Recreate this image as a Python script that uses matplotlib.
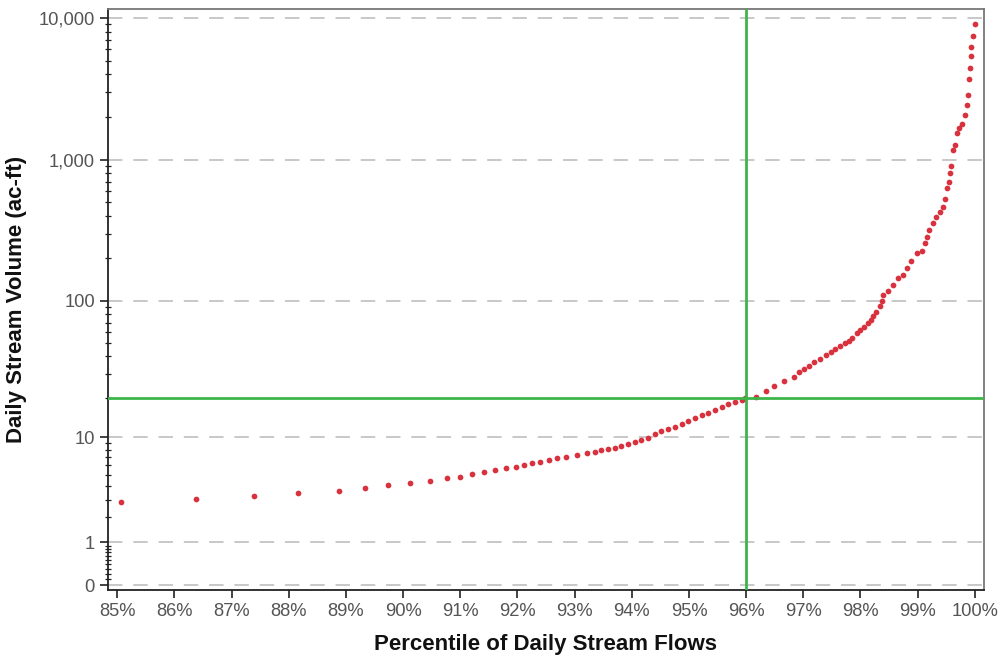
import numpy as np
import matplotlib
matplotlib.use("Agg")
import matplotlib.pyplot as plt
from matplotlib.ticker import FixedLocator, FuncFormatter

plt.rcParams['font.family'] = ['Liberation Sans', 'DejaVu Sans']

# percentile of daily stream flows (%) and daily volume (ac-ft)
percentile = [
    85.07, 86.38, 87.40, 88.16, 88.88, 89.33, 89.74, 90.13, 90.48, 90.76,
    91.00, 91.21, 91.42, 91.61, 91.80, 91.97, 92.12, 92.26, 92.40, 92.55,
    92.70, 92.85, 93.04, 93.21, 93.36, 93.47, 93.59, 93.71, 93.82, 93.94,
    94.06, 94.17, 94.29, 94.41, 94.52, 94.64, 94.76, 94.87, 94.99, 95.10,
    95.22, 95.34, 95.45, 95.57, 95.69, 95.80, 95.92, 95.98,
    96.17, 96.34, 96.49, 96.67, 96.84, 96.93, 97.02, 97.10, 97.19, 97.29,
    97.39, 97.48, 97.55, 97.64, 97.73, 97.80, 97.86, 97.94, 98.00, 98.06,
    98.13, 98.18, 98.22, 98.28, 98.34, 98.38, 98.40, 98.48, 98.57, 98.66,
    98.75, 98.81, 98.89, 98.98, 99.07, 99.13, 99.16, 99.20, 99.26, 99.32,
    99.39, 99.44, 99.48, 99.51, 99.54, 99.56, 99.59, 99.62, 99.65, 99.68,
    99.73, 99.78, 99.83, 99.87, 99.88, 99.89, 99.91, 99.93, 99.94, 99.97,
    100.0,
]
volume = [
    2.83, 3.04, 3.22, 3.43, 3.63, 3.83, 4.05, 4.24, 4.44, 4.66,
    4.81, 5.02, 5.24, 5.44, 5.64, 5.82, 6.01, 6.21, 6.41, 6.61,
    6.81, 7.02, 7.24, 7.49, 7.73, 7.93, 8.12, 8.31, 8.53, 8.84,
    9.16, 9.50, 9.84, 10.56, 11.2, 11.6, 12.0, 12.6, 13.4, 14.0,
    14.7, 15.4, 16.1, 17.0, 17.8, 18.5, 19.3, 19.8,
    20.3, 22.5, 24.4, 26.5, 28.2, 30.7, 32.4, 34.3, 36.4, 38.3,
    40.7, 43.3, 45.2, 47.5, 49.7, 51.8, 54.2, 58.7, 62.0, 64.8,
    69.2, 73.0, 78.0, 83.8, 92.0, 100.4, 110, 118, 130, 145,
    153, 170, 193, 218, 227, 257, 286, 318, 359, 395,
    429, 466, 525, 629, 699, 801, 903, 1171, 1270, 1537,
    1667, 1786, 2069, 2431, 2864, 3697, 4457, 5395, 6280, 7464,
    9076,
]

x_ticks = list(range(85, 101))
y_ticks = [0, 1, 10, 100, 1000, 10000]
ref_percentile = 96
ref_volume = 20


def fwd(y):
    return np.log10(np.maximum(y, -0.99) + 1)


def inv(t):
    return 10 ** t - 1


fig = plt.figure(figsize=(10.01, 6.57), dpi=100)
ax = fig.add_axes([0.1079, 0.102, 0.8751, 0.8843])
ax.set_yscale('function', functions=(fwd, inv))

ax.scatter(percentile, volume, s=17, color='#d9323f', linewidths=0, zorder=3)
ax.axvline(ref_percentile, color='#3db54a', lw=2, zorder=4)
ax.axhline(ref_volume, color='#3db54a', lw=2, zorder=4)

ax.set_xlim(84.84, 100.16)
ax.set_ylim(inv(-0.035), inv(4.063))

ax.set_xticks(x_ticks)
ax.set_xticklabels([f"{v}%" for v in x_ticks])
ax.yaxis.set_major_locator(FixedLocator(y_ticks))
ax.yaxis.set_major_formatter(FuncFormatter(lambda v, p: f"{int(round(v)):,}"))
minors = [k * 10.0 ** n for n in range(-1, 4) for k in range(1, 10)]
minors = [m for m in minors if m not in y_ticks]
ax.yaxis.set_minor_locator(FixedLocator(minors))

for y in y_ticks:
    ax.axhline(y, color='#c4c4c4', lw=1.3, dashes=(8, 6), zorder=1)

ax.tick_params(axis='both', which='major', labelsize=13.2, labelcolor='#555555',
               color='#222222', length=6, width=1.2)
ax.tick_params(axis='y', which='minor', direction='inout', length=4, width=0.9,
               color='#222222')
ax.tick_params(axis='x', which='minor', bottom=False)

for side in ['left', 'bottom']:
    ax.spines[side].set_color('#222222')
    ax.spines[side].set_linewidth(1.3)
for side in ['top', 'right']:
    ax.spines[side].set_color('#777777')
    ax.spines[side].set_linewidth(1.3)

ax.set_xlabel("Percentile of Daily Stream Flows", fontsize=16, fontweight='bold',
              color='#111111', labelpad=10)
ax.set_ylabel("Daily Stream Volume (ac-ft)", fontsize=16, fontweight='bold',
              color='#111111', labelpad=8)

fig.savefig("out.png", dpi=100, facecolor='white')
